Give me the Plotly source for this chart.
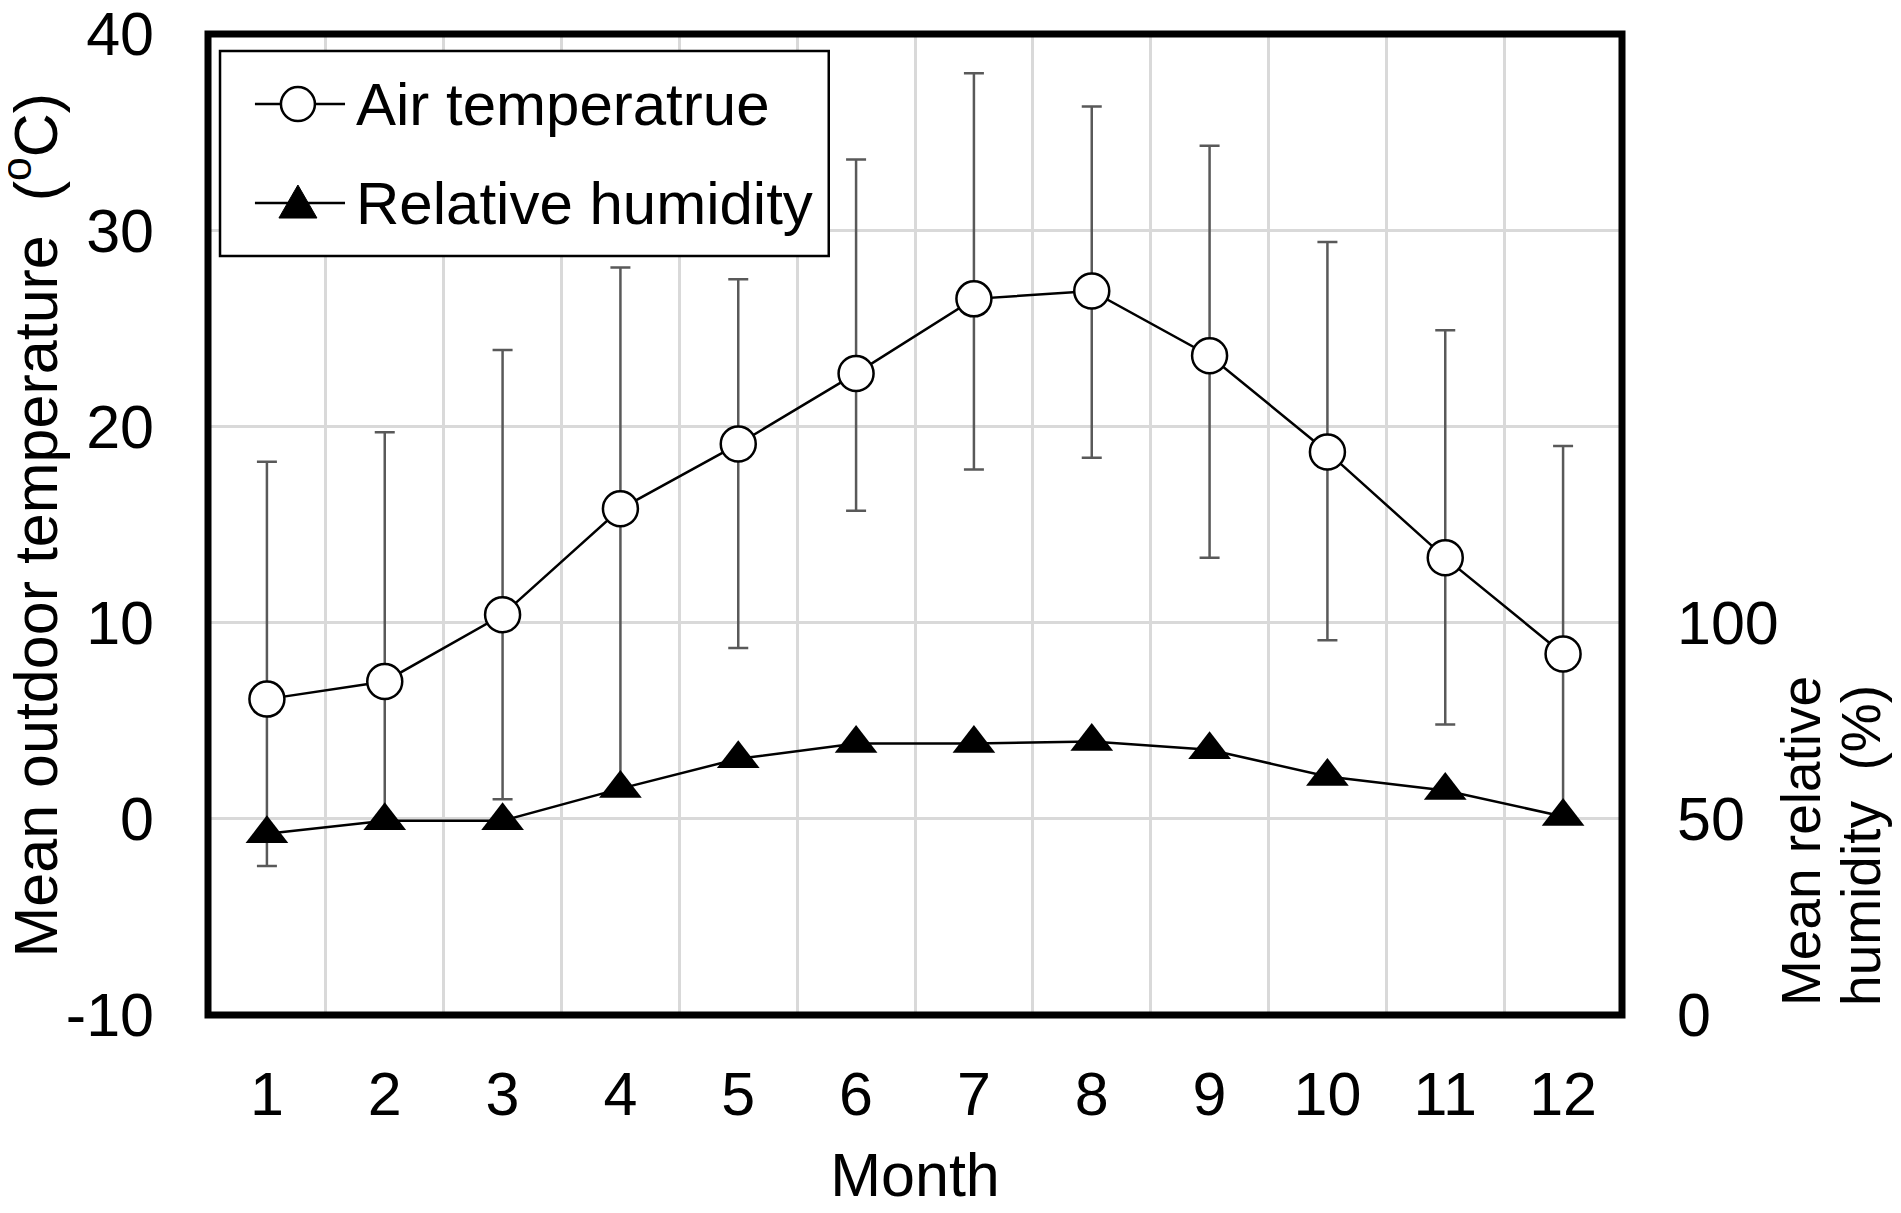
import plotly.graph_objects as go

months = [1, 2, 3, 4, 5, 6, 7, 8, 9, 10, 11, 12]
temp_mean = [6.1, 7.0, 10.4, 15.8, 19.1, 22.7, 26.5, 26.9, 23.6, 18.7, 13.3, 8.4]
temp_max = [18.2, 19.7, 23.9, 28.1, 27.5, 33.6, 38.0, 36.3, 34.3, 29.4, 24.9, 19.0]
temp_min = [-2.4, -0.3, 1.0, 1.5, 8.7, 15.7, 17.8, 18.4, 13.3, 9.1, 4.8, 0.0]
humidity = [46.2, 49.5, 49.5, 57.7, 65.3, 69.2, 69.2, 69.7, 67.6, 60.8, 57.2, 50.6]

temp_ticks = [-10, 0, 10, 20, 30, 40]
temp_labels = ["-10", "0", "10", "20", "30", "40"]
rh_ticks = [0, 50, 100]

FONT = "Liberation Sans, Arial, sans-serif"

err_up = [hi - m for hi, m in zip(temp_max, temp_mean)]
err_dn = [m - lo for m, lo in zip(temp_mean, temp_min)]

fig = go.Figure()
fig.add_trace(go.Scatter(
    x=months, y=temp_mean, name="Air temperatrue", mode="lines+markers",
    line=dict(color="black", width=2.5),
    marker=dict(symbol="circle", size=35, color="white",
                line=dict(color="black", width=2.5)),
    error_y=dict(type="data", symmetric=False, array=err_up, arrayminus=err_dn,
                 color="#595959", thickness=2.5, width=10),
))
fig.add_trace(go.Scatter(
    x=months, y=humidity, name="Relative humidity", mode="lines+markers",
    yaxis="y2",
    line=dict(color="black", width=2.5),
    marker=dict(symbol="triangle-up", size=37, color="black"),
))

# legend drawn by hand so the symbols keep the reference size
lg_x0, lg_x1, lg_y0, lg_y1 = 0.0085, 0.439, 0.7737, 0.9827
row_y = [0.9286, 0.8277]
sym_x0, sym_x1, sym_xc, txt_x = 0.0332, 0.0969, 0.0636, 0.1033

shapes = [
    dict(type="rect", xref="paper", yref="paper", x0=lg_x0, x1=lg_x1, y0=lg_y0, y1=lg_y1,
         line=dict(color="black", width=2.5), fillcolor="white", layer="above"),
]
for ry in row_y:
    shapes.append(dict(type="line", xref="paper", yref="paper", x0=sym_x0, x1=sym_x1,
                       y0=ry, y1=ry, line=dict(color="black", width=2.5), layer="above"))
shapes.append(dict(type="circle", xref="paper", yref="paper",
                   xsizemode="pixel", ysizemode="pixel", xanchor=sym_xc, yanchor=row_y[0],
                   x0=-17, x1=17, y0=-17, y1=17, fillcolor="white",
                   line=dict(color="black", width=2.5), layer="above"))
shapes.append(dict(type="path", xref="paper", yref="paper",
                   xsizemode="pixel", ysizemode="pixel", xanchor=sym_xc, yanchor=row_y[1],
                   path="M-19,-15L19,-15L0,18Z", fillcolor="black",
                   line=dict(color="black", width=1), layer="above"))
shapes.append(dict(type="rect", xref="paper", yref="paper", x0=0, x1=1, y0=0, y1=1,
                   line=dict(color="black", width=7), layer="above"))

annotations = [
    dict(text="Air temperatrue", xref="paper", yref="paper", x=txt_x, y=row_y[0],
         xanchor="left", yanchor="middle", showarrow=False, font=dict(size=60)),
    dict(text="Relative humidity", xref="paper", yref="paper", x=txt_x, y=row_y[1],
         xanchor="left", yanchor="middle", showarrow=False, font=dict(size=60)),
    dict(text="Mean outdoor temperature\u00a0\u00a0(<sup>o</sup>C)", textangle=-90,
         xref="paper", yref="paper", x=-0.1252, y=0.5,
         xanchor="center", yanchor="middle", showarrow=False, font=dict(size=61)),
    dict(text="Mean relative", textangle=-90, xref="paper", yref="paper",
         x=1.1265, y=0.007, xanchor="center", yanchor="bottom",
         showarrow=False, font=dict(size=55)),
    dict(text="humidity\u00a0\u00a0(%)", textangle=-90, xref="paper", yref="paper",
         x=1.1685, y=0.007, xanchor="center", yanchor="bottom",
         showarrow=False, font=dict(size=55)),
]

# the page body has an 8px margin, so the figure is 8px smaller each way
fig.update_layout(
    width=1893, height=1205,
    margin=dict(l=200, r=279, t=26, b=198),
    paper_bgcolor="white", plot_bgcolor="white",
    font=dict(family=FONT, size=61, color="black"),
    showlegend=False,
    xaxis=dict(range=[0.5, 12.5], tickvals=months, ticks="", automargin=False,
               showgrid=False, zeroline=False, showline=False,
               ticklabelstandoff=38, ticklabeloverflow="allow",
               minor=dict(tick0=0.5, dtick=1, showgrid=True,
                          gridcolor="#d9d9d9", gridwidth=2.5),
               title=dict(text="Month", standoff=26, font=dict(size=61))),
    yaxis=dict(range=[-10, 40], tickvals=temp_ticks, ticktext=temp_labels, ticks="",
               automargin=False, ticklabeloverflow="allow",
               showgrid=True, gridcolor="#d9d9d9", gridwidth=2.5,
               zeroline=False, showline=False, ticklabelstandoff=53),
    yaxis2=dict(range=[0, 250], tickvals=rh_ticks, overlaying="y", side="right",
                automargin=False, ticklabeloverflow="allow",
                ticks="", showgrid=False, zeroline=False, showline=False,
                ticklabelstandoff=54),
    shapes=shapes,
    annotations=annotations,
)

fig.write_html("out.html")
